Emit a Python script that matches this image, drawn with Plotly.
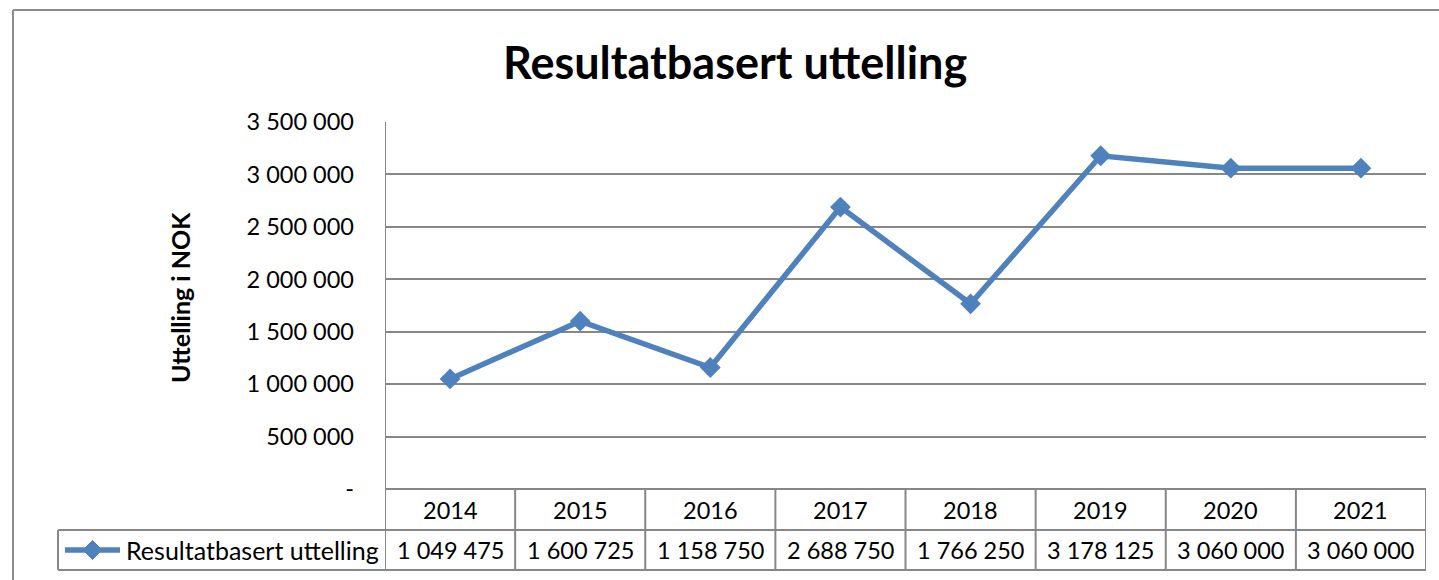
import plotly.graph_objects as go

years = ["2014", "2015", "2016", "2017", "2018", "2019", "2020", "2021"]
values = [1049475, 1600725, 1158750, 2688750, 1766250, 3178125, 3060000, 3060000]
tick_vals = [0, 500000, 1000000, 1500000, 2000000, 2500000, 3000000, 3500000]
series_name = "Resultatbasert uttelling"
title_text = "Resultatbasert uttelling"
y_title = "Uttelling i NOK"

W, H = 1439, 580
FONT = "Lato"
BLUE = "#4F81BD"
GRID = "#878787"


def fmt(v):
    return "-" if v == 0 else f"{v:,}".replace(",", " ")


def px(x):
    return x / W


def py(y):
    return 1 - y / H


plot_left, plot_right, plot_top, plot_bottom = 385, 1426, 122, 489
row1_bottom, row2_bottom = 530, 570
legend_left = 58
n = len(years)

fig = go.Figure()
fig.add_trace(go.Scatter(
    x=list(range(n)), y=values, mode="lines+markers", name=series_name,
    line=dict(color=BLUE, width=5.5),
    marker=dict(symbol="diamond", size=16, color=BLUE),
    showlegend=False, hoverinfo="skip",
))

shapes = []
# outer frame
shapes.append(dict(type="line", xref="paper", yref="paper", x0=px(13), x1=1, y0=py(10), y1=py(10),
                   line=dict(color="#8c8c8c", width=2)))
shapes.append(dict(type="line", xref="paper", yref="paper", x0=px(13), x1=px(13), y0=py(10), y1=0,
                   line=dict(color="#8c8c8c", width=2)))
# table horizontal lines
for yy, x0 in [(plot_bottom, plot_left), (row1_bottom, legend_left), (row2_bottom, legend_left)]:
    shapes.append(dict(type="line", xref="paper", yref="paper", x0=px(x0), x1=px(plot_right),
                       y0=py(yy), y1=py(yy), line=dict(color=GRID, width=2)))
# vertical lines at category boundaries
for i in range(n + 1):
    top = plot_top if i == 0 else plot_bottom
    shapes.append(dict(type="line", xref="x", yref="paper", x0=i - 0.5, x1=i - 0.5,
                       y0=py(top), y1=py(row2_bottom), line=dict(color=GRID, width=2)))
# legend cell left edge
shapes.append(dict(type="line", xref="paper", yref="paper", x0=px(legend_left), x1=px(legend_left),
                   y0=py(row1_bottom), y1=py(row2_bottom), line=dict(color=GRID, width=2)))
# legend glyph: line + diamond
ly = (row1_bottom + row2_bottom) / 2
shapes.append(dict(type="line", xref="paper", yref="paper", x0=px(65), x1=px(120), y0=py(ly), y1=py(ly),
                   line=dict(color=BLUE, width=5.5)))
cx, r = 92.5, 9.5
shapes.append(dict(type="path", xref="paper", yref="paper",
                   path=f"M {px(cx - r)} {py(ly)} L {px(cx)} {py(ly - r)} L {px(cx + r)} {py(ly)} L {px(cx)} {py(ly + r)} Z",
                   fillcolor=BLUE, line=dict(color=BLUE, width=1)))

annotations = []
for i, (yr, v) in enumerate(zip(years, values)):
    annotations.append(dict(x=i, xref="x", y=py((plot_bottom + row1_bottom) / 2), yref="paper",
                            xanchor="center", yanchor="middle",
                            text=yr, showarrow=False, font=dict(family=FONT, size=23.5, color="black")))
    annotations.append(dict(x=i, xref="x", y=py((row1_bottom + row2_bottom) / 2), yref="paper",
                            xanchor="center", yanchor="middle",
                            text=fmt(v), showarrow=False, font=dict(family=FONT, size=23.5, color="black")))
annotations.append(dict(x=px(124), xref="paper", y=py(ly), yref="paper", xanchor="left", yanchor="middle",
                        text=series_name, showarrow=False, font=dict(family=FONT, size=25, color="black")))
annotations.append(dict(x=px(180), xref="paper", y=py(298), yref="paper", textangle=-90,
                        xanchor="center", yanchor="middle",
                        text=f"<b>{y_title}</b>", showarrow=False, font=dict(family=FONT, size=25, color="black")))
annotations.append(dict(x=px(735), xref="paper", y=py(62), yref="paper",
                        xanchor="center", yanchor="middle",
                        text=f"<b>{title_text}</b>", showarrow=False, font=dict(family=FONT, size=45, color="black")))

fig.update_layout(
    template="none",
    width=W, height=H, autosize=False,
    margin=dict(l=0, r=0, t=0, b=0, pad=0, autoexpand=False),
    paper_bgcolor="white", plot_bgcolor="white",
    xaxis=dict(domain=[px(plot_left), px(plot_right)], range=[-0.5, n - 0.5],
               showticklabels=False, showgrid=False, zeroline=False, showline=False,
               automargin=False, fixedrange=True, ticks=""),
    yaxis=dict(domain=[py(plot_bottom), py(plot_top)], range=[0, 3500000],
               tickvals=tick_vals, ticktext=[fmt(v) for v in tick_vals],
               tickfont=dict(family=FONT, size=23.5, color="black"),
               showgrid=True, gridcolor=GRID, gridwidth=2, zeroline=False, showline=False,
               ticks="", automargin=False, fixedrange=True, ticklabelstandoff=30),
    shapes=shapes, annotations=annotations,
    showlegend=False,
)

fig.write_html("out.html", config={"displayModeBar": False, "staticPlot": True},
               post_script="document.body.style.margin='0';document.body.style.overflow='hidden';")
